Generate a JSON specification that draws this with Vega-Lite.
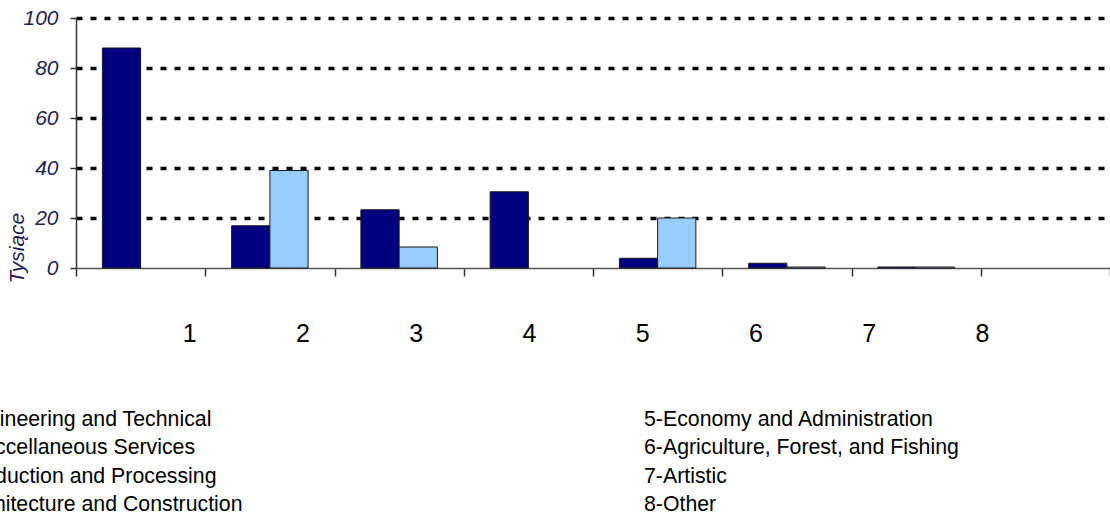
{
  "$schema": "https://vega.github.io/schema/vega-lite/v6.json",
  "width": 1034,
  "height": 250,
  "autosize": {"type": "none"},
  "padding": {"left": 76, "top": 18, "right": 0, "bottom": 247},
  "background": "#ffffff",
  "config": {"view": {"stroke": null}, "font": "Liberation Sans"},
  "datasets": {
    "zatrudnienie": [
      {"kod": 1, "seria": "Seria 1", "wartosc": 88.0},
      {"kod": 2, "seria": "Seria 1", "wartosc": 16.9},
      {"kod": 2, "seria": "Seria 2", "wartosc": 39.0},
      {"kod": 3, "seria": "Seria 1", "wartosc": 23.3},
      {"kod": 3, "seria": "Seria 2", "wartosc": 8.4},
      {"kod": 4, "seria": "Seria 1", "wartosc": 30.5},
      {"kod": 5, "seria": "Seria 1", "wartosc": 3.9},
      {"kod": 5, "seria": "Seria 2", "wartosc": 20.0},
      {"kod": 6, "seria": "Seria 1", "wartosc": 1.9},
      {"kod": 6, "seria": "Seria 2", "wartosc": 0.4},
      {"kod": 7, "seria": "Seria 1", "wartosc": 0.4},
      {"kod": 7, "seria": "Seria 2", "wartosc": 0.4}
    ],
    "kategorie": [
      {"kod": 1, "opis": "1-Engineering and Technical", "kolumna": 1, "wiersz": 1},
      {"kod": 2, "opis": "2-Misccellaneous Services", "kolumna": 1, "wiersz": 2},
      {"kod": 3, "opis": "3-Production and Processing", "kolumna": 1, "wiersz": 3},
      {"kod": 4, "opis": "4-Architecture and Construction", "kolumna": 1, "wiersz": 4},
      {"kod": 5, "opis": "5-Economy and Administration", "kolumna": 2, "wiersz": 1},
      {"kod": 6, "opis": "6-Agriculture, Forest, and Fishing", "kolumna": 2, "wiersz": 2},
      {"kod": 7, "opis": "7-Artistic", "kolumna": 2, "wiersz": 3},
      {"kod": 8, "opis": "8-Other", "kolumna": 2, "wiersz": 4}
    ]
  },
  "layer": [
    {
      "data": {"name": "zatrudnienie"},
      "mark": {"type": "bar", "stroke": "#1a1a1a", "strokeWidth": 1},
      "encoding": {
        "x": {
          "field": "kod",
          "type": "ordinal",
          "scale": {"domain": [1, 2, 3, 4, 5, 6, 7, 8], "paddingInner": 0, "paddingOuter": 0},
          "axis": {
            "orient": "bottom",
            "title": null,
            "labels": false,
            "tickBand": "extent",
            "tickSize": 8,
            "tickColor": "#333333",
            "tickWidth": 1.5,
            "domainColor": "#555555",
            "domainWidth": 1.5,
            "grid": false
          }
        },
        "xOffset": {
          "field": "seria",
          "type": "nominal",
          "scale": {"domain": ["Seria 1", "Seria 2"], "paddingInner": 0, "paddingOuter": 0.69}
        },
        "y": {
          "field": "wartosc",
          "type": "quantitative",
          "scale": {"domain": [0, 100], "nice": false},
          "axis": {
            "values": [0, 20, 40, 60, 80, 100],
            "title": "Tysiące",
            "titleFontStyle": "italic",
            "titleFontWeight": "normal",
            "titleFontSize": 21,
            "titleColor": "#1f1f4f",
            "titleAngle": 270,
            "titleAlign": "left",
            "titleBaseline": "alphabetic",
            "titleX": -53,
            "titleY": 265,
            "labelFontStyle": "italic",
            "labelFontSize": 21,
            "labelColor": "#1f1f4f",
            "labelPadding": 12,
            "tickSize": 6,
            "tickColor": "#333333",
            "tickWidth": 1.5,
            "domainColor": "#333333",
            "domainWidth": 1.5,
            "grid": true,
            "gridColor": "#000000",
            "gridDash": [6, 8],
            "gridWidth": 3.5,
            "gridOpacity": {"condition": {"test": "datum.value === 0", "value": 0}, "value": 1}
          }
        },
        "color": {
          "field": "seria",
          "type": "nominal",
          "scale": {"domain": ["Seria 1", "Seria 2"], "range": ["#000080", "#99ccff"]},
          "legend": null
        }
      }
    },
    {
      "data": {"name": "kategorie"},
      "mark": {"type": "rule", "strokeOpacity": 0},
      "encoding": {
        "x": {
          "field": "kod",
          "type": "quantitative",
          "scale": {"domain": [0, 9.13], "nice": false, "zero": false},
          "axis": {
            "orient": "bottom",
            "values": [1, 2, 3, 4, 5, 6, 7, 8],
            "format": "d",
            "title": null,
            "domain": false,
            "ticks": false,
            "grid": false,
            "labelFontSize": 25,
            "labelColor": "#000000",
            "labelPadding": 53
          }
        }
      }
    },
    {
      "data": {"name": "kategorie"},
      "mark": {"type": "text", "align": "left", "baseline": "alphabetic", "fontSize": 21.3, "color": "#000000"},
      "encoding": {
        "x": {
          "field": "kolumna",
          "type": "quantitative",
          "scale": {"domain": [1, 2], "range": [-133, 568], "nice": false, "zero": false},
          "axis": null
        },
        "y": {
          "field": "wiersz",
          "type": "quantitative",
          "scale": {"domain": [1, 4], "range": [408, 493], "nice": false, "zero": false},
          "axis": null
        },
        "text": {"field": "opis"}
      }
    }
  ],
  "resolve": {
    "scale": {"x": "independent", "y": "independent"},
    "axis": {"x": "independent", "y": "independent"}
  }
}
